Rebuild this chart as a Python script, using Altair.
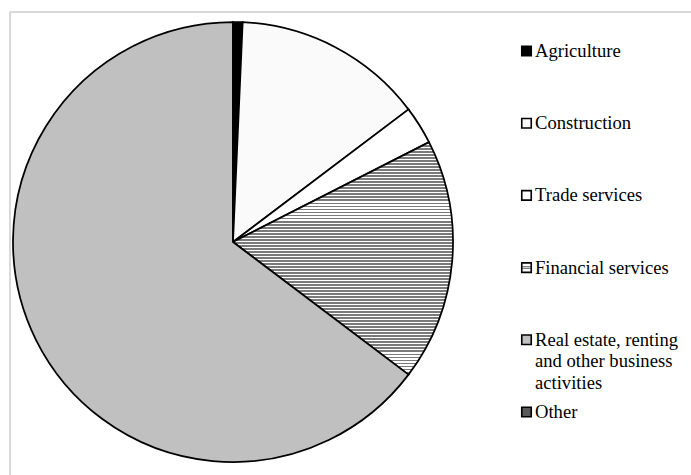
import altair as alt
import pandas as pd

# ---- data ----
sectors = [
    "Agriculture",
    "Construction",
    "Trade services",
    "Financial services",
    "Real estate, renting\nand other business\nactivities",
    "Other",
]
shares = [0.7, 14.0, 2.8, 17.8, 64.7, 0.0]
fills = ["#000000", "#fafafa", "#ffffff", "#b0b0b0", "#c0c0c0", "#595959"]

df = pd.DataFrame({"sector": sectors, "share": shares, "idx": list(range(len(sectors)))})

# horizontal stripe "pattern" for Financial services, done with a hard-stop gradient
n_stripes = 77
stops = []
for i in range(n_stripes):
    a = i / n_stripes
    b = (i + 0.62) / n_stripes
    c = (i + 1) / n_stripes
    stops += [
        {"offset": round(a, 5), "color": "#7a7a7a"},
        {"offset": round(b, 5), "color": "#7a7a7a"},
        {"offset": round(b, 5), "color": "#ffffff"},
        {"offset": round(min(c, 1.0), 5), "color": "#ffffff"},
    ]
stripe_grad = {"gradient": "linear", "x1": 0, "y1": 0, "x2": 0, "y2": 1, "stops": stops}

legend_grad = {
    "gradient": "linear", "x1": 0, "y1": 0, "x2": 0, "y2": 1,
    "stops": [
        {"offset": 0.0, "color": "#ffffff"},
        {"offset": 0.3, "color": "#ffffff"},
        {"offset": 0.3, "color": "#808080"},
        {"offset": 0.45, "color": "#808080"},
        {"offset": 0.45, "color": "#d0d0d0"},
        {"offset": 0.55, "color": "#d0d0d0"},
        {"offset": 0.55, "color": "#808080"},
        {"offset": 0.7, "color": "#808080"},
        {"offset": 0.7, "color": "#ffffff"},
        {"offset": 1.0, "color": "#ffffff"},
    ],
}

fill_scale = alt.Scale(domain=sectors, range=fills)
is_fin = alt.datum.sector == "Financial services"

base = alt.Chart(df)

pie = base.mark_arc(radius=220, stroke="black", strokeWidth=1.75).encode(
    theta=alt.Theta("share:Q", stack=True),
    order=alt.Order("idx:Q"),
    fill=alt.condition(is_fin, alt.value(stripe_grad),
                       alt.Fill("sector:N", scale=fill_scale, legend=None)),
    x=alt.value(223),
    y=alt.value(230),
)

yscale = alt.Scale(type="point", domain=sectors, range=[39, 400], padding=0)

squares = base.mark_point(shape="square", filled=True, size=90, stroke="black",
                          strokeWidth=1.6, opacity=1).encode(
    x=alt.value(516.5),
    y=alt.Y("sector:N", scale=yscale, axis=None),
    fill=alt.condition(is_fin, alt.value(legend_grad),
                       alt.Fill("sector:N", scale=fill_scale, legend=None)),
)

labels = base.mark_text(align="left", baseline="alphabetic", dy=6,
                        font="Liberation Serif, Times New Roman, Times, serif",
                        fontSize=18.6, lineHeight=21.7,
                        lineBreak="\n", color="black").encode(
    x=alt.value(525),
    y=alt.Y("sector:N", scale=yscale, axis=None),
    text="sector:N",
)

frame_top = base.mark_rule(color="#d9d9d9", strokeWidth=2).encode(
    x=alt.value(0), x2=alt.value(681), y=alt.value(0)
)
frame_left = base.mark_rule(color="#d9d9d9", strokeWidth=2).encode(
    x=alt.value(0), y=alt.value(0), y2=alt.value(463)
)

chart = alt.layer(pie, squares, labels, frame_top, frame_left).properties(
    width=681,
    height=463,
    padding={"left": 10, "top": 12, "right": 0, "bottom": 0},
    autosize=alt.AutoSizeParams(type="none"),
    background="white",
).configure_view(stroke=None)

chart.save("out.html", embed_options={"renderer": "svg", "actions": False})
